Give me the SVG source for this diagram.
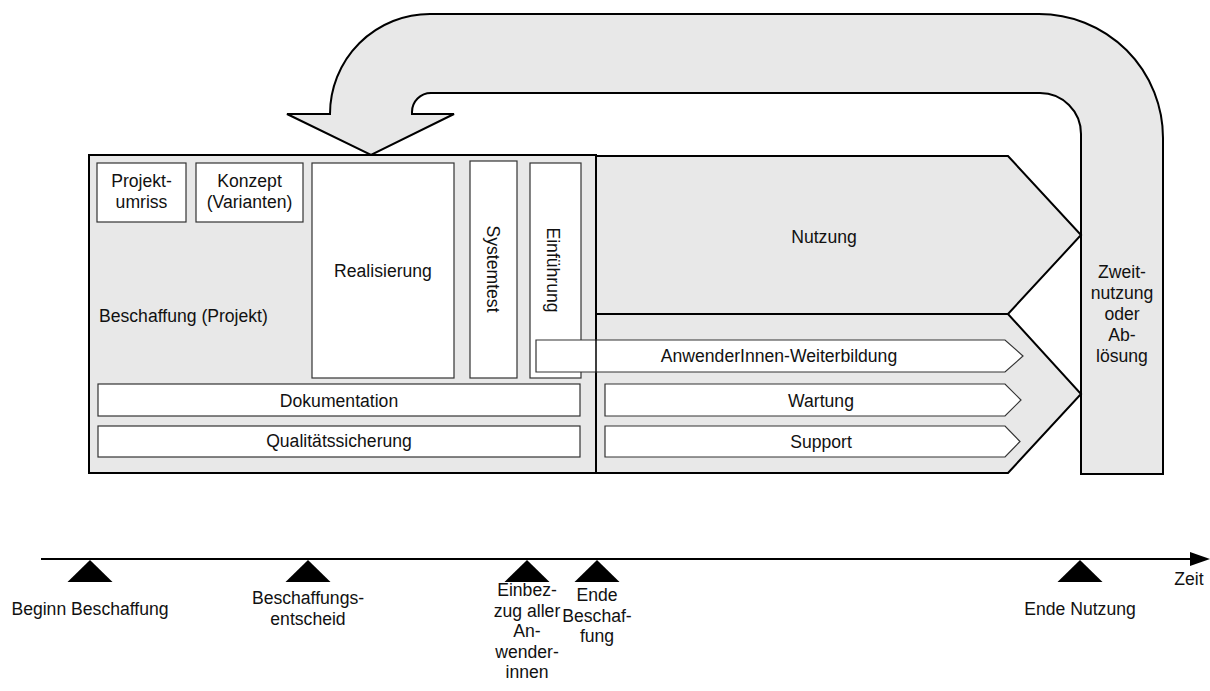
<svg xmlns="http://www.w3.org/2000/svg" width="1210" height="691" viewBox="0 0 1210 691">
  <defs>
    <style>
      text { font-family: "Liberation Sans", Arial, sans-serif; font-size: 17.6px; fill: #111; }
      .mid { text-anchor: middle; }
      .phase { fill: #e8e8e8; stroke: #000; stroke-width: 2; stroke-linejoin: miter; }
      .task { fill: #fff; stroke: #333; stroke-width: 1.2; }
      .axis { stroke: #000; stroke-width: 2.2; fill: none; }
      .mark { fill: #000; }
    </style>
    <marker id="axisHead" viewBox="0 0 20 14" refX="2" refY="7" markerWidth="20" markerHeight="14" markerUnits="userSpaceOnUse" orient="auto">
      <path d="M0,0 L20,7 L0,14 Z" fill="#000"/>
    </marker>
  </defs>

  <!-- feedback arrow: from end of use back into procurement, with the final column -->
  <g id="feedback">
    <path class="phase" d="M1081,474 L1163,474 L1163,138 A124,124 0 0 0 1039,14 L430,14 A100,100 0 0 0 330,114 L287,114 L371,155 L454,114 L412,114 L412,112 A19,19 0 0 1 431,93 L1040,93 A41,41 0 0 1 1081,134 Z"/>
    <text class="mid" x="1122" y="278">Zweit-</text>
    <text class="mid" x="1122" y="299">nutzung</text>
    <text class="mid" x="1122" y="320">oder</text>
    <text class="mid" x="1122" y="341">Ab-</text>
    <text class="mid" x="1122" y="362">lösung</text>
  </g>

  <!-- procurement phase -->
  <g id="beschaffung">
    <rect class="phase" x="89" y="155" width="507" height="318"/>
    <text x="99" y="322">Beschaffung (Projekt)</text>
  </g>

  <g id="projektumriss">
    <rect class="task" x="97" y="163" width="89" height="59"/>
    <text class="mid" x="141.5" y="187">Projekt-</text>
    <text class="mid" x="141.5" y="208">umriss</text>
  </g>

  <g id="konzept">
    <rect class="task" x="196" y="163" width="107" height="59"/>
    <text class="mid" x="249.5" y="187">Konzept</text>
    <text class="mid" x="249.5" y="208">(Varianten)</text>
  </g>

  <g id="realisierung">
    <rect class="task" x="312" y="163" width="142" height="215"/>
    <text class="mid" x="383" y="277">Realisierung</text>
  </g>

  <g id="systemtest">
    <rect class="task" x="470" y="161" width="47" height="217"/>
    <text class="mid" transform="translate(493,269) rotate(90)" x="0" y="6">Systemtest</text>
  </g>

  <g id="einfuehrung">
    <rect class="task" x="530" y="163" width="51" height="215"/>
    <text class="mid" transform="translate(553,270) rotate(90)" x="0" y="6">Einführung</text>
  </g>

  <g id="dokumentation">
    <rect class="task" x="98" y="384" width="482" height="32"/>
    <text class="mid" x="339" y="406.5">Dokumentation</text>
  </g>

  <g id="qualitaet">
    <rect class="task" x="98" y="426" width="482" height="31"/>
    <text class="mid" x="339" y="447">Qualitätssicherung</text>
  </g>

  <!-- use phase -->
  <g id="nutzung">
    <path class="phase" d="M596,156 L1008,156 L1081,235 L1008,314 L596,314 Z"/>
    <text class="mid" x="824" y="243">Nutzung</text>
  </g>

  <g id="betrieb">
    <path class="phase" d="M596,314 L1008,314 L1081,394 L1008,473 L596,473 Z"/>
  </g>

  <g id="weiterbildung">
    <path class="task" d="M536,340 L1005,340 L1023,356 L1005,372 L536,372 Z"/>
    <line x1="596" y1="340" x2="596" y2="372" stroke="#000" stroke-width="1.5"/>
    <text class="mid" x="779" y="362">AnwenderInnen-Weiterbildung</text>
  </g>

  <g id="wartung">
    <path class="task" d="M605,384 L1005,384 L1021,400 L1005,416 L605,416 Z"/>
    <text class="mid" x="821" y="406.5">Wartung</text>
  </g>

  <g id="support">
    <path class="task" d="M605,426 L1005,426 L1020,441.5 L1005,457 L605,457 Z"/>
    <text class="mid" x="821" y="447.5">Support</text>
  </g>

  <!-- time axis -->
  <g id="connectors">
    <line class="axis" x1="41" y1="559" x2="1192" y2="559" marker-end="url(#axisHead)"/>
  </g>

  <g id="zeit">
    <text class="mid" x="1189" y="585">Zeit</text>
  </g>

  <g id="m-beginn">
    <polygon class="mark" points="90,560 112.5,582 67.5,582"/>
    <text class="mid" x="90" y="615">Beginn Beschaffung</text>
  </g>

  <g id="m-entscheid">
    <polygon class="mark" points="308,560 330.5,582 285.5,582"/>
    <text class="mid" x="308" y="604">Beschaffungs-</text>
    <text class="mid" x="308" y="625">entscheid</text>
  </g>

  <g id="m-einbezug">
    <polygon class="mark" points="527,560 549.5,582 504.5,582"/>
    <text class="mid" x="527" y="596">Einbez-</text>
    <text class="mid" x="527" y="616.5">zug aller</text>
    <text class="mid" x="527" y="637">An-</text>
    <text class="mid" x="527" y="657.5">wender-</text>
    <text class="mid" x="527" y="678">innen</text>
  </g>

  <g id="m-ende-beschaffung">
    <polygon class="mark" points="597,560 619.5,582 574.5,582"/>
    <text class="mid" x="597" y="601">Ende</text>
    <text class="mid" x="597" y="621.5">Beschaf-</text>
    <text class="mid" x="597" y="642">fung</text>
  </g>

  <g id="m-ende-nutzung">
    <polygon class="mark" points="1080,560 1102.5,582 1057.5,582"/>
    <text class="mid" x="1080" y="615">Ende Nutzung</text>
  </g>
</svg>
